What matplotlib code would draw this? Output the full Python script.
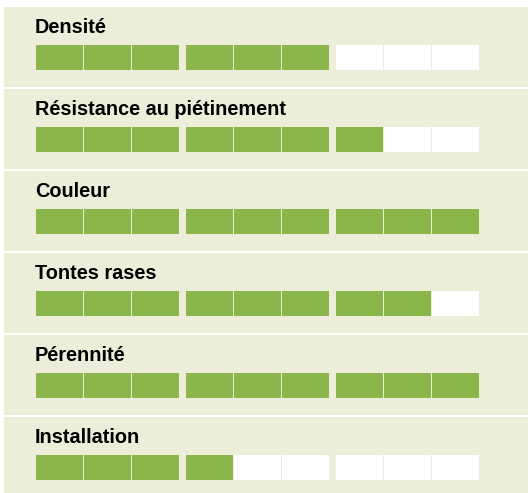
import matplotlib
matplotlib.use('Agg')
import matplotlib.pyplot as plt

# données du graphique
criteres = ['Densité', 'Résistance au piétinement', 'Couleur',
            'Tontes rases', 'Pérennité', 'Installation']
notes = [6, 7, 9, 8, 9, 4]   # cases remplies sur 9
NB_CASES = 9

VERT = '#8BB64B'
FOND = '#ECEEDA'
BLANC = '#FFFFFF'

W, H = 528, 493
fig = plt.figure(figsize=(W / 100, H / 100), dpi=100)
ax = fig.add_axes([0, 0, 1, 1])
ax.set_xlim(0, W)
ax.set_ylim(H, 0)
ax.axis('off')

# mise en page (pixels)
haut0, pas, h_panneau = 7, 82, 80
x_gauche = 4
x0_cases, pas_case, l_case, pas_groupe = 36, 48, 47, 150
dy_barre, h_barre = 38, 25

for i, (nom, n) in enumerate(zip(criteres, notes)):
    haut = haut0 + pas * i
    # panneau de fond
    ax.barh(haut, W - x_gauche, height=h_panneau, left=x_gauche,
            align='edge', color=FOND, linewidth=0)
    # libellé
    ax.text(x0_cases - 1, haut + 26, nom, fontsize=14.3, fontweight='bold',
            family=['Liberation Sans', 'DejaVu Sans'], color='black',
            va='baseline', ha='left')
    # cases de la note
    lefts = [x0_cases + (j // 3) * pas_groupe + (j % 3) * pas_case
             for j in range(NB_CASES)]
    couleurs = [VERT if j < n else BLANC for j in range(NB_CASES)]
    ax.barh([haut + dy_barre] * NB_CASES, [l_case] * NB_CASES,
            height=h_barre, left=lefts, align='edge',
            color=couleurs, linewidth=0)

fig.savefig('out.png', dpi=100)
